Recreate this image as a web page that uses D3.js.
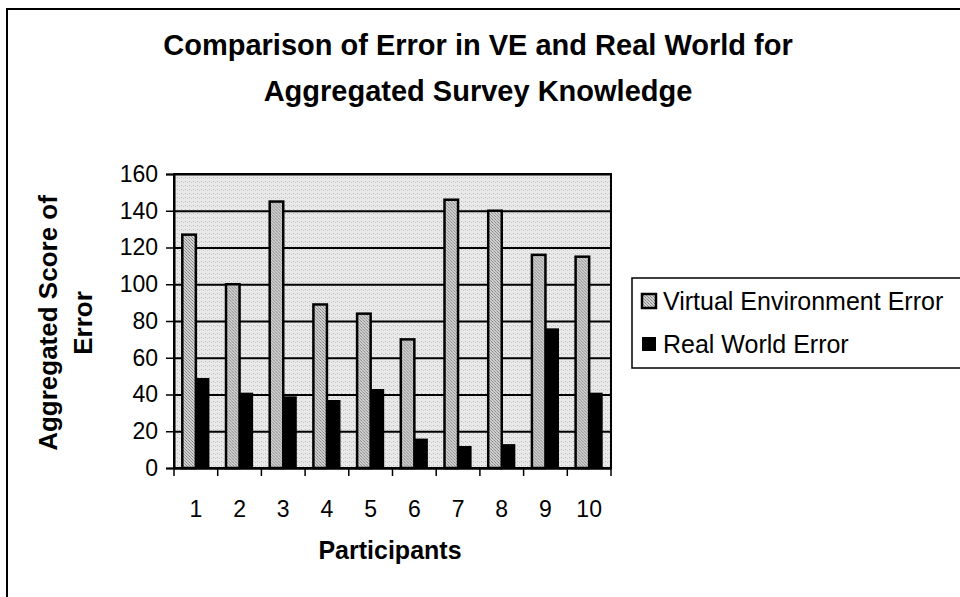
<!DOCTYPE html>
<html>
<head>
<meta charset="utf-8">
<script src="https://cdn.jsdelivr.net/npm/d3@7"></script>
<style>
  body { margin: 0; background: #fff; }
  text { font-family: "Liberation Sans", Arial, sans-serif; fill: #000; }
</style>
</head>
<body>
<svg id="chart" width="960" height="597"></svg>
<script>
const participants = ["1", "2", "3", "4", "5", "6", "7", "8", "9", "10"];
const veError = [127, 100, 145, 89, 84, 70, 146, 140, 116, 115];
const rwError = [49, 41, 39, 37, 43, 16, 12, 13, 76, 41];
const seriesNames = ["Virtual Environment Error", "Real World Error"];
const yTicks = [0, 20, 40, 60, 80, 100, 120, 140, 160];

const svg = d3.select("#chart");
const plot = {left: 174, top: 174, right: 611, bottom: 468};

// patterns for the scanned look
const defs = svg.append("defs");
let bgPat = defs.append("pattern")
  .attr("id", "bgdots").attr("width", 4).attr("height", 4)
  .attr("patternUnits", "userSpaceOnUse");
bgPat.append("rect").attr("width", 4).attr("height", 4).attr("fill", "#e9e9e9");
bgPat.append("rect").attr("x", 1).attr("y", 1).attr("width", 1).attr("height", 1).attr("fill", "#b8b8b8");
bgPat.append("rect").attr("x", 3).attr("y", 2).attr("width", 1).attr("height", 1).attr("fill", "#c8c8c8");

let vePat = defs.append("pattern")
  .attr("id", "vehatch").attr("width", 3).attr("height", 3)
  .attr("patternUnits", "userSpaceOnUse");
vePat.append("rect").attr("width", 3).attr("height", 3).attr("fill", "#d2d2d2");
vePat.append("rect").attr("x", 0).attr("y", 0).attr("width", 1).attr("height", 1).attr("fill", "#808080");
vePat.append("rect").attr("x", 1).attr("y", 1).attr("width", 1).attr("height", 1).attr("fill", "#9a9a9a");
vePat.append("rect").attr("x", 2).attr("y", 2).attr("width", 1).attr("height", 1).attr("fill", "#888");

// outer chart frame (runs off the right and bottom)
svg.append("rect")
  .attr("x", 7).attr("y", 9).attr("width", 1000).attr("height", 700)
  .attr("fill", "none").attr("stroke", "#000").attr("stroke-width", 2);

// title
svg.append("text")
  .attr("x", 478).attr("y", 55)
  .attr("text-anchor", "middle")
  .attr("font-size", 29).attr("font-weight", "bold")
  .text("Comparison of Error in VE and Real World for");
svg.append("text")
  .attr("x", 478).attr("y", 101)
  .attr("text-anchor", "middle")
  .attr("font-size", 29).attr("font-weight", "bold")
  .text("Aggregated Survey Knowledge");

const x0 = d3.scaleBand().domain(participants).range([plot.left, plot.right]).padding(0);
const bw = x0.bandwidth();
const x1 = d3.scaleBand().domain(seriesNames).range([bw * 0.19, bw * 0.81]).padding(0);
const y = d3.scaleLinear().domain([0, 160]).range([plot.bottom, plot.top]);

// plot background
svg.append("rect")
  .attr("x", plot.left).attr("y", plot.top)
  .attr("width", plot.right - plot.left).attr("height", plot.bottom - plot.top)
  .attr("fill", "url(#bgdots)");

// gridlines
svg.append("g")
  .attr("transform", `translate(${plot.left},0)`)
  .call(d3.axisLeft(y).tickValues(yTicks).tickSize(-(plot.right - plot.left)).tickFormat(""))
  .call(g => g.select(".domain").remove())
  .call(g => g.selectAll("line").attr("stroke", "#000").attr("stroke-width", 2));

// bars
const rows = participants.map((p, i) => ({p, vals: [veError[i], rwError[i]]}));
const groups = svg.append("g").selectAll("g")
  .data(rows).join("g")
  .attr("transform", d => `translate(${x0(d.p)},0)`);

groups.selectAll("rect")
  .data(d => d.vals.map((v, k) => ({name: seriesNames[k], v})))
  .join("rect")
  .attr("x", d => x1(d.name))
  .attr("y", d => y(d.v))
  .attr("width", x1.bandwidth())
  .attr("height", d => y(0) - y(d.v))
  .attr("fill", d => d.name === seriesNames[0] ? "url(#vehatch)" : "#000")
  .attr("stroke", "#000")
  .attr("stroke-width", d => d.name === seriesNames[0] ? 2.5 : 0);

// plot border
svg.append("rect")
  .attr("x", plot.left).attr("y", plot.top)
  .attr("width", plot.right - plot.left).attr("height", plot.bottom - plot.top)
  .attr("fill", "none").attr("stroke", "#000").attr("stroke-width", 2);

// y axis
svg.append("g")
  .attr("transform", `translate(${plot.left},0)`)
  .call(d3.axisLeft(y).tickValues(yTicks).tickSize(8).tickPadding(8))
  .call(g => g.select(".domain").attr("stroke", "#000").attr("stroke-width", 2))
  .call(g => g.selectAll("line").attr("stroke", "#000").attr("stroke-width", 1.5))
  .call(g => g.selectAll("text").attr("font-size", 23).attr("font-family", "Liberation Sans, Arial, sans-serif"));

// x axis: labels at band centres, ticks at band edges
svg.append("g")
  .attr("transform", `translate(0,${plot.bottom})`)
  .call(d3.axisBottom(x0).tickSize(0).tickPadding(33))
  .call(g => g.select(".domain").attr("stroke", "#000").attr("stroke-width", 2))
  .call(g => g.selectAll("text").attr("font-size", 23).attr("font-family", "Liberation Sans, Arial, sans-serif"));

svg.append("g").selectAll("line")
  .data(participants.map(p => x0(p)).concat([plot.right]))
  .join("line")
  .attr("x1", d => d).attr("x2", d => d)
  .attr("y1", plot.bottom).attr("y2", plot.bottom + 8)
  .attr("stroke", "#000").attr("stroke-width", 1.5);

// axis titles
svg.append("text")
  .attr("x", 390).attr("y", 559)
  .attr("text-anchor", "middle")
  .attr("font-size", 25).attr("font-weight", "bold")
  .text("Participants");

const yTitle = svg.append("text")
  .attr("transform", "translate(57,323) rotate(-90)")
  .attr("text-anchor", "middle")
  .attr("font-size", 26).attr("font-weight", "bold");
yTitle.append("tspan").attr("x", 0).attr("dy", 0).text("Aggregated Score of");
yTitle.append("tspan").attr("x", 0).attr("dy", 35).text("Error");

// legend
const legend = svg.append("g").attr("transform", "translate(632,278)");
legend.append("rect")
  .attr("width", 400).attr("height", 90)
  .attr("fill", "#fff").attr("stroke", "#000").attr("stroke-width", 1.5);

const items = legend.selectAll("g.item")
  .data(seriesNames).join("g")
  .attr("class", "item")
  .attr("transform", (d, i) => `translate(10,${16 + i * 43})`);
items.append("rect")
  .attr("width", 14).attr("height", 14)
  .attr("fill", (d, i) => i === 0 ? "url(#vehatch)" : "#000")
  .attr("stroke", "#000").attr("stroke-width", (d, i) => i === 0 ? 2.5 : 0);
items.append("text")
  .attr("x", 21).attr("y", 16)
  .attr("font-size", 25)
  .text(d => d);
</script>
</body>
</html>
